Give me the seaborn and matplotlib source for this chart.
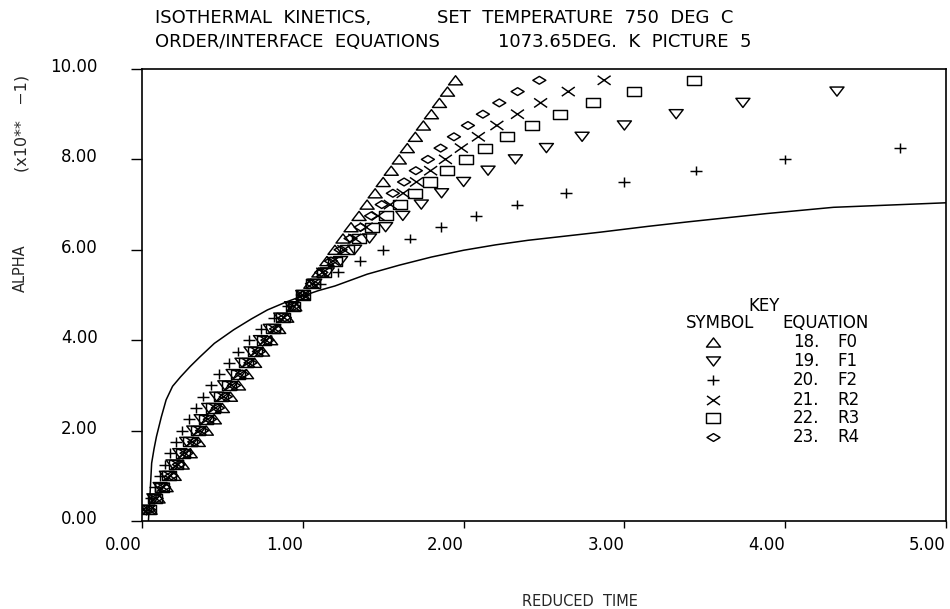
import numpy as np
import pandas as pd
import matplotlib
matplotlib.use("Agg")
import matplotlib.pyplot as plt
import matplotlib.transforms as mtransforms
from matplotlib.path import Path
from matplotlib.lines import Line2D
import seaborn as sns

# ---------------- data (alpha in units of 1e-1) ----------------
alpha = [0.25, 0.50, 0.75, 1.00, 1.25, 1.50, 1.75, 2.00, 2.25, 2.50,
         2.75, 3.00, 3.25, 3.50, 3.75, 4.00, 4.25, 4.50, 4.75, 5.00,
         5.25, 5.50, 5.75, 6.00, 6.25, 6.50, 6.75, 7.00, 7.25, 7.50,
         7.75, 8.00, 8.25, 8.50, 8.75, 9.00, 9.25, 9.50, 9.75]

t_F0 = [0.05, 0.10, 0.15, 0.20, 0.25, 0.30, 0.35, 0.40, 0.45, 0.50,
        0.55, 0.60, 0.65, 0.70, 0.75, 0.80, 0.85, 0.90, 0.95, 1.00,
        1.05, 1.10, 1.15, 1.20, 1.25, 1.30, 1.35, 1.40, 1.45, 1.50,
        1.55, 1.60, 1.65, 1.70, 1.75, 1.80, 1.85, 1.90, 1.95]
t_F1 = [0.037, 0.074, 0.113, 0.152, 0.193, 0.235, 0.278, 0.322, 0.368, 0.415,
        0.464, 0.515, 0.567, 0.622, 0.678, 0.737, 0.798, 0.863, 0.930, 1.000,
        1.074, 1.152, 1.235, 1.322, 1.415, 1.515, 1.622, 1.737, 1.863, 2.000,
        2.152, 2.322, 2.515, 2.737, 3.000, 3.322, 3.737, 4.322]
t_F2 = [0.026, 0.053, 0.081, 0.111, 0.143, 0.176, 0.212, 0.250, 0.290, 0.333,
        0.379, 0.429, 0.481, 0.538, 0.600, 0.667, 0.739, 0.818, 0.905, 1.000,
        1.105, 1.222, 1.353, 1.500, 1.667, 1.857, 2.077, 2.333, 2.636, 3.000,
        3.444, 4.000, 4.714]
t_R2 = [0.043, 0.086, 0.131, 0.175, 0.221, 0.266, 0.313, 0.360, 0.409, 0.457,
        0.507, 0.558, 0.609, 0.662, 0.715, 0.770, 0.825, 0.882, 0.940, 1.000,
        1.061, 1.124, 1.188, 1.255, 1.323, 1.394, 1.468, 1.544, 1.624, 1.707,
        1.795, 1.887, 1.986, 2.092, 2.207, 2.335, 2.479, 2.651, 2.874]
t_R3 = [0.041, 0.082, 0.124, 0.167, 0.211, 0.256, 0.301, 0.347, 0.395, 0.443,
        0.493, 0.543, 0.595, 0.648, 0.703, 0.759, 0.817, 0.876, 0.937, 1.000,
        1.065, 1.133, 1.203, 1.276, 1.352, 1.431, 1.515, 1.602, 1.695, 1.794,
        1.899, 2.013, 2.136, 2.272, 2.424, 2.597, 2.803, 3.062, 3.430]
t_R4 = [0.045, 0.091, 0.137, 0.183, 0.230, 0.277, 0.325, 0.374, 0.422, 0.472,
        0.521, 0.572, 0.623, 0.675, 0.727, 0.780, 0.834, 0.888, 0.944, 1.000,
        1.057, 1.115, 1.175, 1.235, 1.297, 1.360, 1.425, 1.491, 1.560, 1.630,
        1.703, 1.778, 1.857, 1.940, 2.027, 2.120, 2.222, 2.336, 2.471]

# experimental curve
exp_t = [0.040, 0.050, 0.060, 0.075, 0.090, 0.120, 0.150, 0.190, 0.240, 0.300,
         0.360, 0.450, 0.570, 0.680, 0.780, 0.900, 1.000, 1.100, 1.200, 1.400,
         1.600, 1.800, 2.000, 2.200, 2.400, 2.650, 2.850, 3.150, 3.400, 3.880,
         4.300, 5.000]
exp_a = [0.00, 0.60, 1.28, 1.60, 1.87, 2.30, 2.68, 2.98, 3.19, 3.42,
         3.63, 3.93, 4.23, 4.47, 4.67, 4.85, 4.98, 5.10, 5.20, 5.46,
         5.66, 5.84, 5.99, 6.11, 6.21, 6.31, 6.39, 6.52, 6.62, 6.80,
         6.94, 7.04]

x_ticks = [0, 1, 2, 3, 4, 5]
x_labels = ["0.00", "1.00", "2.00", "3.00", "4.00", "5.00"]
y_ticks = [0, 2, 4, 6, 8, 10]
y_labels = ["0.00", "2.00", "4.00", "6.00", "8.00", "10.00"]

series = [("18.", "F0", t_F0), ("19.", "F1", t_F1), ("20.", "F2", t_F2),
          ("21.", "R2", t_R2), ("22.", "R3", t_R3), ("23.", "R4", t_R4)]

# ---------------- marker shapes ----------------
M, L, C = Path.MOVETO, Path.LINETO, Path.CLOSEPOLY
mk_tri_up = Path([(-1, -0.65), (1, -0.65), (0, 0.65), (-1, -0.65)], [M, L, L, C])
mk_tri_dn = Path([(-1, 0.65), (1, 0.65), (0, -0.65), (-1, 0.65)], [M, L, L, C])
mk_plus = Path([(-1, 0), (1, 0), (0, -0.8), (0, 0.8)], [M, L, M, L])
mk_x = Path([(-1, -0.7), (1, 0.7), (-1, 0.7), (1, -0.7)], [M, L, M, L])
mk_sq = Path([(-1, -0.65), (1, -0.65), (1, 0.65), (-1, 0.65), (-1, -0.65)], [M, L, L, L, C])
mk_dia = Path([(-1, 0), (0, 0.6), (1, 0), (0, -0.6), (-1, 0)], [M, L, L, L, C])
markers = [mk_tri_up, mk_tri_dn, mk_plus, mk_x, mk_sq, mk_dia]
msizes = [14, 14, 12, 13, 14, 13]  # pixel widths

# ---------------- figure ----------------
sns.set_theme(style="white")
plt.rcParams["font.family"] = ["DejaVu Sans"]
DPI = 100
fig = plt.figure(figsize=(9.5, 6.09), dpi=DPI)
W, H = 950, 609
ax = fig.add_axes([142 / W, 1 - 521 / H, (946 - 142) / W, (521 - 69) / H])

px2pt = 72 / DPI
for (num, code, tvals), mk, ms in zip(series, markers, msizes):
    df = pd.DataFrame({"t": tvals, "a": alpha[:len(tvals)]})
    sns.scatterplot(data=df, x="t", y="a", marker=mk, s=(ms * px2pt) ** 2,
                    color="black", facecolor="none", edgecolor="black",
                    linewidth=1.05, ax=ax, legend=False, zorder=3)

dfe = pd.DataFrame({"t": exp_t, "a": exp_a})
sns.lineplot(data=dfe, x="t", y="a", sort=False, color="black", lw=1.1, ax=ax)

ax.set_xlim(0, 5)
ax.set_ylim(0, 10)
ax.set_xticks(x_ticks)
ax.set_xticklabels(x_labels, ha="right")
ax.set_yticks(y_ticks)
ax.set_yticklabels(y_labels)
ax.set_xlabel("")
ax.set_ylabel("")
ax.tick_params(axis="x", direction="out", length=5, width=1.0, pad=6,
               labelsize=12, colors="black", bottom=True)
ax.tick_params(axis="y", direction="out", length=8, width=1.0, pad=24,
               labelsize=12, colors="black", left=True)
up = mtransforms.ScaledTranslation(0, 4 / DPI, fig.dpi_scale_trans)
for lab in ax.get_yticklabels():
    lab.set_transform(lab.get_transform() + up)
for sp in ax.spines.values():
    sp.set_visible(True)
    sp.set_color("black")
    sp.set_linewidth(1.2)
ax.grid(False)

# ---------------- titles and labels ----------------
def ftxt(x, y, s, **kw):
    fig.text(x / W, 1 - y / H, s, **kw)

tkw = dict(fontsize=13, va="center", ha="left", color="black")
ftxt(155, 18, "ISOTHERMAL  KINETICS,", **tkw)
ftxt(437, 18, "SET  TEMPERATURE  750  DEG  C", **tkw)
ftxt(155, 42, "ORDER/INTERFACE  EQUATIONS", **tkw)
ftxt(498, 42, "1073.65DEG.  K  PICTURE  5", **tkw)

ftxt(580, 602, "REDUCED  TIME", fontsize=10.5, ha="center", va="center")
ftxt(20, 268, "ALPHA", fontsize=10.5, ha="center", va="center", rotation=90)
ftxt(22, 123, "(x10**   \u22121)", fontsize=11.5, ha="center", va="center", rotation=90)

# ---------------- key ----------------
lkw = dict(fontsize=12, va="center", color="black")
ftxt(764, 306, "KEY", ha="center", **lkw)
ftxt(720, 323, "SYMBOL", ha="center", **lkw)
ftxt(826, 323, "EQUATION", ha="center", **lkw)
row_y = [342, 361, 380, 400, 418, 437]
for (num, code, _), mk, ms, ry in zip(series, markers, msizes, row_y):
    fig.add_artist(Line2D([713 / W], [1 - ry / H], marker=mk, markersize=ms * px2pt,
                          markerfacecolor="none", markeredgecolor="black",
                          markeredgewidth=1.05, linestyle="none",
                          transform=fig.transFigure))
    ftxt(793, ry, num, ha="left", **lkw)
    ftxt(837, ry, code, ha="left", **lkw)

fig.savefig("out.png", dpi=DPI)
